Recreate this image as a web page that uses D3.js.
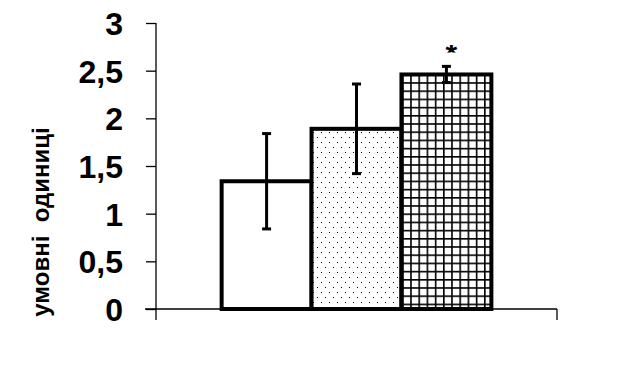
<!DOCTYPE html>
<html>
<head>
<meta charset="utf-8">
<style>
  body { margin: 0; background: #fff; }
  svg { display: block; }
</style>
</head>
<body>
<svg width="643" height="379"></svg>
<script src="https://cdnjs.cloudflare.com/ajax/libs/d3/7.8.5/d3.min.js"></script>
<script>
// data
var categories = ["група"];
var series = ["s1", "s2", "s3"];
var values = [1.34, 1.89, 2.46];
var errors = [0.5, 0.47, 0.085];
var fills = ["white", "url(#dots)", "url(#grid)"];
var yTicks = [0, 0.5, 1, 1.5, 2, 2.5, 3];
var marks = ["", "", "*"];

var FONT = "Arial, 'Liberation Sans', sans-serif";
var svg = d3.select("svg");

// patterns
var defs = svg.append("defs");
var dots = defs.append("pattern")
    .attr("id", "dots")
    .attr("patternUnits", "userSpaceOnUse")
    .attr("width", 8).attr("height", 10);
dots.append("rect").attr("width", 8).attr("height", 10).attr("fill", "white");
dots.append("rect").attr("x", 1).attr("y", 2).attr("width", 1).attr("height", 1).attr("fill", "black");
dots.append("rect").attr("x", 5).attr("y", 7).attr("width", 1).attr("height", 1).attr("fill", "black");

var grid = defs.append("pattern")
    .attr("id", "grid")
    .attr("patternUnits", "userSpaceOnUse")
    .attr("x", 402).attr("y", 74)
    .attr("width", 8.2).attr("height", 8.2);
grid.append("rect").attr("width", 8.2).attr("height", 8.2).attr("fill", "white");
grid.append("rect").attr("x", 0).attr("y", 0).attr("width", 1.6).attr("height", 8.2).attr("fill", "black");
grid.append("rect").attr("x", 0).attr("y", 0).attr("width", 8.2).attr("height", 1.6).attr("fill", "black");

var pl = 156, pr = 557, pt = 23, pb = 309;

var y = d3.scaleLinear().domain([0, 3]).range([pb, pt]);
var x0 = d3.scaleBand().domain(categories).range([pl, pr]);
var x1 = d3.scaleBand().domain(series).range([0, x0.bandwidth()])
    .paddingInner(0).paddingOuter(0.73);

// bars
var g = svg.append("g");
series.forEach(function(s, i) {
  var bx = x0(categories[0]) + x1(s);
  g.append("rect")
    .attr("x", bx)
    .attr("y", y(values[i]))
    .attr("width", x1.bandwidth())
    .attr("height", y(0) - y(values[i]))
    .attr("fill", fills[i])
    .attr("stroke", "black")
    .attr("stroke-width", 4);
});

// error bars
series.forEach(function(s, i) {
  var cx = x0(categories[0]) + x1(s) + x1.bandwidth() / 2;
  var hi = y(values[i] + errors[i]), lo = y(values[i] - errors[i]);
  g.append("line").attr("x1", cx).attr("x2", cx).attr("y1", hi).attr("y2", lo)
    .attr("stroke", "black").attr("stroke-width", 3);
  [hi, lo].forEach(function(v) {
    g.append("line").attr("x1", cx - 4.5).attr("x2", cx + 4.5).attr("y1", v).attr("y2", v)
      .attr("stroke", "black").attr("stroke-width", 3);
  });
  if (marks[i]) {
    // only the lower half of the asterisk shows, as in the source
    var mx = cx + 5, base = hi - 2.5;
    var clip = defs.append("clipPath").attr("id", "mclip");
    clip.append("rect").attr("x", mx - 10).attr("y", base - 19).attr("width", 20).attr("height", 7.5);
    g.append("g").attr("clip-path", "url(#mclip)")
      .append("text")
      .attr("x", mx)
      .attr("y", base)
      .attr("text-anchor", "middle")
      .style("font", "bold 30px " + FONT)
      .text(marks[i]);
  }
});

// y axis
var yAxis = d3.axisLeft(y)
    .tickValues(yTicks)
    .tickSize(10)
    .tickPadding(23)
    .tickFormat(function(d) { return String(d).replace(".", ","); });
var ya = svg.append("g").attr("transform", "translate(" + pl + ",0)").call(yAxis);
ya.select(".domain").remove();
ya.selectAll(".tick line").attr("stroke", "black").attr("stroke-width", 1.3);
ya.selectAll(".tick text")
  .attr("dy", "0.36em")
  .attr("fill", "black")
  .style("font-family", FONT)
  .style("font-weight", "bold")
  .style("font-size", "32px");
svg.append("line").attr("x1", pl).attr("x2", pl).attr("y1", pt).attr("y2", pb + 11)
  .attr("stroke", "black").attr("stroke-width", 1.3);

// x axis
svg.append("line").attr("x1", pl - 11).attr("x2", pr).attr("y1", pb).attr("y2", pb)
  .attr("stroke", "black").attr("stroke-width", 1.3);
svg.append("line").attr("x1", pr).attr("x2", pr).attr("y1", pb).attr("y2", pb + 11)
  .attr("stroke", "black").attr("stroke-width", 1.3);

// y title
svg.append("text")
  .attr("transform", "translate(49,222) rotate(-90)")
  .attr("text-anchor", "middle")
  .attr("xml:space", "preserve")
  .style("font-family", FONT)
  .style("font-weight", "bold")
  .style("font-size", "24px")
  .text("умовні  одиниці");
</script>
</body>
</html>
